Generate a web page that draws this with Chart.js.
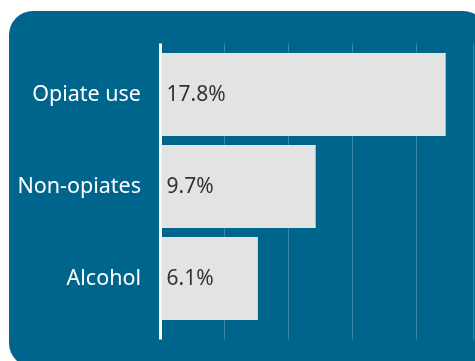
<!DOCTYPE html>
<html>
<head>
<meta charset="utf-8">
<script src="https://cdn.jsdelivr.net/npm/chart.js@4/dist/chart.umd.min.js"></script>
<style>
  html, body { margin: 0; padding: 0; background: #fff; }
  #wrap { width: 475px; height: 361px; position: relative; }
</style>
</head>
<body>
<div id="wrap"><canvas id="bars"></canvas></div>
<script>
const categories = ['Opiate use', 'Non-opiates', 'Alcohol'];
const values = [17.8, 9.7, 6.1];
const valueLabels = ['17.8%', '9.7%', '6.1%'];

const panelBlue = '#00658c';
const barGrey = '#e3e3e3';
const labelFont = '"Noto Sans", sans-serif';

// blue rounded box behind everything
const panelPlugin = {
  id: 'panel',
  beforeDraw(chart) {
    const ctx = chart.ctx;
    ctx.save();
    ctx.fillStyle = panelBlue;
    ctx.beginPath();
    ctx.roundRect(9, 11, 478, 356, 24);
    ctx.fill();
    ctx.restore();
  }
};

// value text inside the bars
const valuePlugin = {
  id: 'values',
  afterDatasetsDraw(chart) {
    const ctx = chart.ctx;
    const meta = chart.getDatasetMeta(0);
    ctx.save();
    ctx.fillStyle = '#333';
    ctx.font = '21px ' + labelFont;
    ctx.textBaseline = 'middle';
    ctx.textAlign = 'left';
    meta.data.forEach((bar, i) => {
      ctx.fillText(valueLabels[i], bar.base + 5, bar.y + 1);
    });
    ctx.restore();
  }
};

const gridColor = c => (c.tick && c.tick.value === 0) ? '#ffffff' : 'rgba(255,255,255,0.22)';
const gridWidth = c => (c.tick && c.tick.value === 0) ? 3 : 1;

const data = {
  labels: categories,
  datasets: [{
    data: values,
    backgroundColor: barGrey,
    borderWidth: 0,
    barPercentage: 0.9,
    categoryPercentage: 1
  }]
};

const config = {
  type: 'bar',
  data: data,
  plugins: [panelPlugin, valuePlugin],
  options: {
    indexAxis: 'y',
    responsive: true,
    maintainAspectRatio: false,
    animation: false,
    layout: {
      padding: { top: 44, bottom: 0, left: 0, right: 2 }
    },
    plugins: {
      legend: { display: false },
      tooltip: { enabled: false }
    },
    scales: {
      x: {
        position: 'bottom',
        min: 0,
        max: 19.5,
        ticks: { display: false, stepSize: 4 },
        grid: { color: gridColor, lineWidth: gridWidth, tickLength: 15, drawTicks: true },
        border: { display: false },
        afterFit: s => { s.height = 36.5; }
      },
      x2: {
        position: 'top',
        axis: 'x',
        min: 0,
        max: 19.5,
        ticks: { display: false, stepSize: 4 },
        grid: { color: gridColor, lineWidth: gridWidth, tickLength: 5, drawOnChartArea: false },
        border: { display: false },
        afterFit: s => { s.height = 4.5; }
      },
      y: {
        ticks: {
          color: '#ffffff',
          font: { size: 21.5, family: labelFont },
          padding: 19
        },
        grid: { display: false, drawTicks: false },
        border: { display: false },
        afterFit: s => { s.width = 160; }
      }
    }
  }
};

const barChart = new Chart(document.getElementById('bars'), config);
</script>
</body>
</html>
